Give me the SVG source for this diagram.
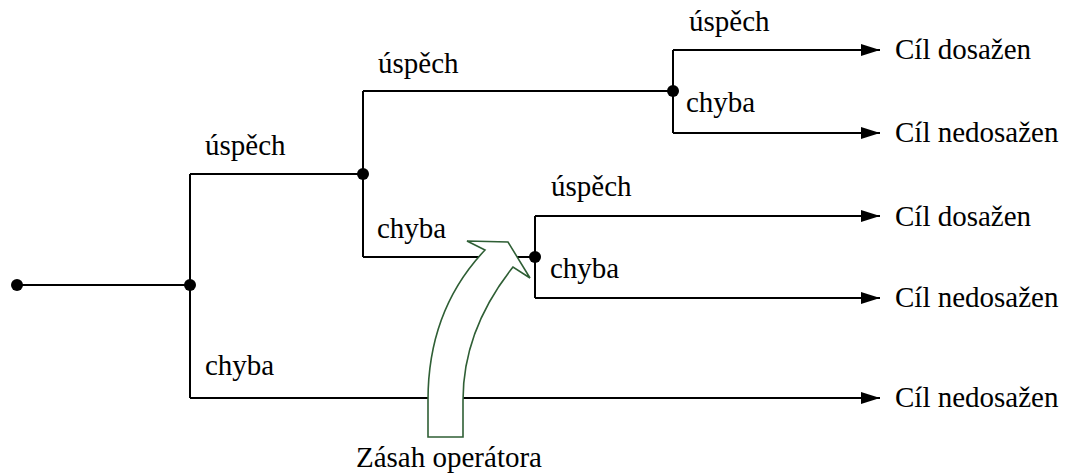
<svg xmlns="http://www.w3.org/2000/svg" width="1071" height="475" viewBox="0 0 1071 475">
<defs>
<style>
.ln{fill:none;stroke:#000;stroke-width:2}
.dot{fill:#000}
.t{font-family:'Liberation Serif','Times New Roman',serif;font-size:29px;fill:#000}
.op{fill:#fff;stroke:#2f5f35;stroke-width:1.6;stroke-linejoin:miter}
</style>
<marker id="ah" markerWidth="20" markerHeight="14" refX="19" refY="7" orient="auto" markerUnits="userSpaceOnUse">
<path d="M0,1 L19,7 L0,13 Z" fill="#000"/>
</marker>
</defs>
<g id="connectors">
<path class="ln" d="M17,285 H190"/>
<path class="ln" d="M190,174 V398"/>
<path class="ln" d="M190,174 H363"/>
<path class="ln" d="M363,91 V257"/>
<path class="ln" d="M363,91 H673"/>
<path class="ln" d="M673,50 V133"/>
<path class="ln" d="M673,50 H880" marker-end="url(#ah)"/>
<path class="ln" d="M673,133 H880" marker-end="url(#ah)"/>
<path class="ln" d="M363,257 H535"/>
<path class="ln" d="M535,216 V298"/>
<path class="ln" d="M535,216 H880" marker-end="url(#ah)"/>
<path class="ln" d="M535,298 H880" marker-end="url(#ah)"/>
<path class="ln" d="M190,398 H880" marker-end="url(#ah)"/>
</g>
<g id="n_start"><circle class="dot" cx="17" cy="285" r="6"/></g>
<g id="n_root"><circle class="dot" cx="190" cy="285" r="6"/></g>
<g id="n_a"><circle class="dot" cx="363" cy="174" r="6"/></g>
<g id="n_b"><circle class="dot" cx="673" cy="91" r="6"/></g>
<g id="n_c"><circle class="dot" cx="535" cy="257" r="6"/></g>
<g id="labels" class="t">
<text x="205" y="155">úspěch</text>
<text x="205" y="375">chyba</text>
<text x="378" y="73">úspěch</text>
<text x="377" y="238">chyba</text>
<text x="689" y="31">úspěch</text>
<text x="686" y="112">chyba</text>
<text x="551" y="196">úspěch</text>
<text x="550" y="278">chyba</text>
</g>
<g id="goal1" class="t"><text x="895" y="59">Cíl dosažen</text></g>
<g id="goal2" class="t"><text x="895" y="142">Cíl nedosažen</text></g>
<g id="goal3" class="t"><text x="895" y="226">Cíl dosažen</text></g>
<g id="goal4" class="t"><text x="895" y="307">Cíl nedosažen</text></g>
<g id="goal5" class="t"><text x="895" y="407">Cíl nedosažen</text></g>
<g id="operator">
<path class="op" d="M428,437 L428,400 Q428,310 485,250 L467,241 L508,242 L530,278 L513,267 Q463,330 463,400 L463,437 Z"/>
<text class="t" x="356" y="467">Zásah operátora</text>
</g>
</svg>
